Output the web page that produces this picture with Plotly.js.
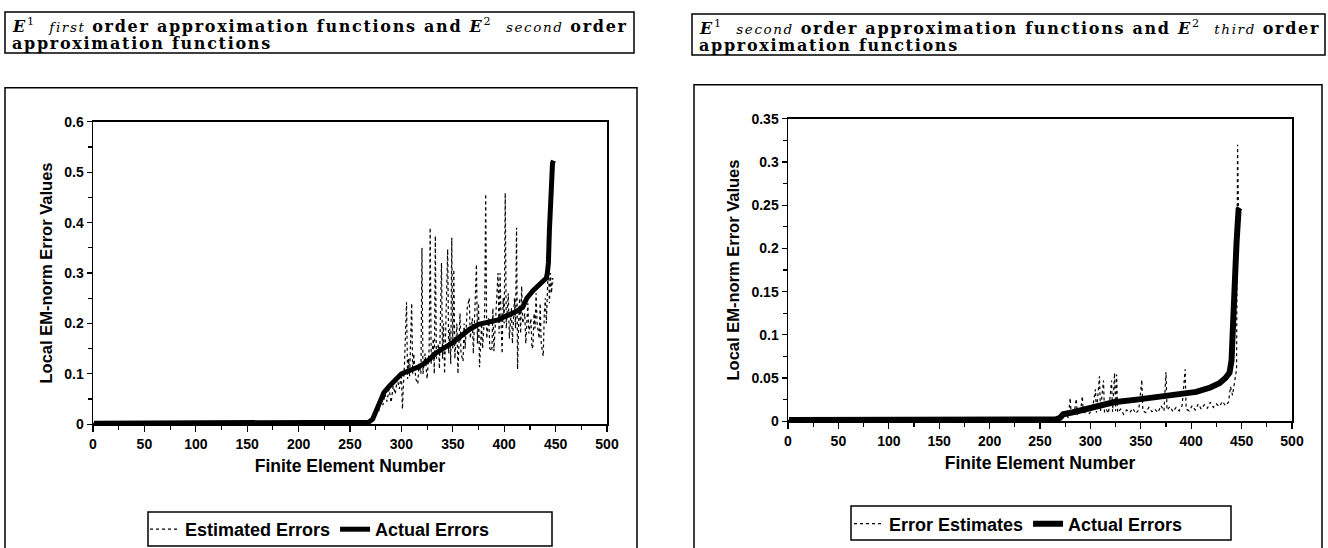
<!DOCTYPE html>
<html>
<head>
<meta charset="utf-8">
<script src="https://cdn.plot.ly/plotly-3.0.1.min.js"></script>
<style>html,body{margin:0;padding:0;background:#fff;}#chart{width:1328px;height:548px;}</style>
</head>
<body>
<div id="chart"></div>
<script>
// ---------------- data ----------------
// Left panel: E1 first order / E2 second order
const leftActualX = [1, 50, 100, 150, 180, 200, 250, 268, 272, 275,
  278, 283, 288, 293, 297, 300, 305, 310, 318, 325,
  334, 342, 350, 358, 366, 375, 385, 394, 400, 406,
  412, 418, 422, 428, 434, 438, 441, 442, 443, 444,
  445, 446, 447, 448];
const leftActualY = [0.002, 0.002, 0.002, 0.002, 0.003, 0.003, 0.003, 0.004, 0.01, 0.025,
  0.04, 0.063, 0.075, 0.085, 0.095, 0.1, 0.104, 0.108, 0.115, 0.125,
  0.142, 0.152, 0.162, 0.175, 0.188, 0.198, 0.203, 0.207, 0.213, 0.218,
  0.224, 0.232, 0.25, 0.265, 0.276, 0.284, 0.29, 0.30, 0.32, 0.386,
  0.45, 0.505, 0.518, 0.523];

const leftEstX = [0, 100, 200, 268, 271, 274, 276, 278, 280, 282,
  284, 286, 288, 290, 292, 294, 296, 298, 300, 301,
  302, 303, 305, 306, 307, 308, 310, 311, 312, 314,
  316, 317, 319, 320, 321, 323, 325, 327, 328, 329,
  331, 332, 333, 334, 336, 337, 339, 340, 341, 342,
  343, 345, 346, 347, 348, 349, 350, 351, 352, 354,
  355, 357, 358, 360, 361, 362, 364, 366, 367, 369,
  370, 372, 373, 374, 375, 376, 378, 379, 381, 382,
  383, 385, 386, 388, 389, 390, 392, 394, 395, 396,
  397, 398, 399, 400, 401, 402, 404, 405, 407, 408,
  410, 411, 412, 413, 414, 415, 416, 417, 418, 420,
  421, 423, 424, 426, 427, 428, 429, 430, 431, 432,
  434, 435, 436, 438, 439, 440, 441, 442, 443, 444,
  445, 446, 447, 448];
const leftEstY = [0.002, 0.002, 0.002, 0.003, 0.008, 0.02, 0.035, 0.025, 0.05, 0.038,
  0.06, 0.045, 0.07, 0.043, 0.076, 0.06, 0.09, 0.07, 0.1, 0.03,
  0.08, 0.12, 0.242, 0.09, 0.13, 0.095, 0.24, 0.1, 0.14, 0.09,
  0.08, 0.12, 0.1, 0.35, 0.1, 0.14, 0.09, 0.15, 0.39, 0.12,
  0.17, 0.1, 0.374, 0.13, 0.16, 0.11, 0.32, 0.13, 0.2, 0.1,
  0.18, 0.347, 0.14, 0.19, 0.12, 0.37, 0.15, 0.307, 0.13, 0.2,
  0.1, 0.22, 0.14, 0.125, 0.2, 0.15, 0.23, 0.25, 0.17, 0.21,
  0.14, 0.24, 0.317, 0.16, 0.24, 0.113, 0.2, 0.15, 0.22, 0.457,
  0.17, 0.21, 0.15, 0.145, 0.23, 0.145, 0.224, 0.3, 0.18, 0.3,
  0.2, 0.14, 0.25, 0.2, 0.459, 0.19, 0.26, 0.17, 0.23, 0.16,
  0.25, 0.19, 0.39, 0.109, 0.2, 0.25, 0.18, 0.274, 0.2, 0.22,
  0.16, 0.24, 0.18, 0.21, 0.15, 0.155, 0.22, 0.19, 0.26, 0.2,
  0.17, 0.24, 0.16, 0.135, 0.22, 0.25, 0.2, 0.27, 0.32, 0.24,
  0.3, 0.26, 0.29, 0.28];

// Right panel: E1 second order / E2 third order
const rightActualX = [1, 100, 200, 265, 270, 273, 285, 296, 310, 323,
  346, 372, 389, 405, 419, 428, 434, 438, 440, 441,
  442, 443, 444, 445, 446, 447, 448];
const rightActualY = [0.0015, 0.0015, 0.0015, 0.002, 0.004, 0.008, 0.011, 0.014, 0.018, 0.022,
  0.025, 0.029, 0.032, 0.034, 0.039, 0.044, 0.05, 0.056, 0.07, 0.091,
  0.12, 0.149, 0.18, 0.207, 0.235, 0.245, 0.247];

const rightEstX = [0, 100, 200, 268, 272, 276, 278, 280, 281, 284,
  286, 287, 290, 292, 293, 296, 299, 302, 305, 306,
  309, 310, 313, 314, 316, 318, 321, 322, 324, 325,
  326, 327, 330, 333, 336, 339, 342, 345, 348, 351,
  352, 355, 358, 361, 364, 367, 370, 373, 375, 376,
  379, 382, 385, 388, 391, 394, 395, 398, 401, 404,
  407, 410, 413, 416, 419, 422, 425, 428, 431, 434,
  437, 439, 441, 443, 445, 446, 447];
const rightEstY = [0.001, 0.001, 0.001, 0.002, 0.004, 0.008, 0.004, 0.027, 0.006, 0.01,
  0.026, 0.008, 0.01, 0.029, 0.008, 0.012, 0.009, 0.014, 0.037, 0.01,
  0.052, 0.012, 0.047, 0.01, 0.013, 0.009, 0.047, 0.011, 0.056, 0.012,
  0.054, 0.01, 0.014, 0.008, 0.013, 0.01, 0.015, 0.009, 0.013, 0.048,
  0.012, 0.01, 0.016, 0.011, 0.014, 0.01, 0.018, 0.012, 0.057, 0.013,
  0.017, 0.011, 0.016, 0.012, 0.018, 0.06, 0.014, 0.012, 0.018, 0.013,
  0.02, 0.014, 0.019, 0.015, 0.022, 0.016, 0.02, 0.017, 0.023, 0.018,
  0.022, 0.04, 0.03, 0.045, 0.06, 0.32, 0.23];

const xTitle = 'Finite Element Number';
const yTitle = 'Local EM-norm Error Values';
const ITAL = '<span style="font-size:13.5px;font-weight:normal;letter-spacing:1.6px"><i>';
const ITAL_END = '</i></span>';
const WIDE = '<span style="letter-spacing:1.7px">';
const WIDE_END = '</span>';
const leftTitle1 = WIDE + '<b><i>E</i></b><sup>1</sup>  ' + ITAL + 'first' + ITAL_END + ' <b>order approximation functions and </b><b><i>E</i></b><sup>2</sup>  ' + ITAL + 'second' + ITAL_END + ' <b>order</b>' + WIDE_END;
const leftTitle2 = WIDE + '<b>approximation functions</b>' + WIDE_END;
const rightTitle1 = WIDE + '<b><i>E</i></b><sup>1</sup>  ' + ITAL + 'second' + ITAL_END + ' <b>order approximation functions and </b><b><i>E</i></b><sup>2</sup>  ' + ITAL + 'third' + ITAL_END + ' <b>order</b>' + WIDE_END;
const rightTitle2 = WIDE + '<b>approximation functions</b>' + WIDE_END;

// ---------------- layout helpers ----------------
const W = 1328, H = 548;
const px = x => x / W;
const py = y => 1 - y / H;
const SANS = 'Liberation Sans, Arial, sans-serif';
const SERIF = 'DejaVu Serif, serif';

function xaxisCfg(d0, d1, anchor) {
  return {
    domain: [px(d0), px(d1)], anchor: anchor, range: [0, 500], tick0: 0, dtick: 50,
    ticks: 'outside', ticklen: 6, tickwidth: 1.3, tickcolor: '#000',
    minor: {dtick: 25, ticks: 'outside', ticklen: 4, tickwidth: 1.2, tickcolor: '#000'},
    showline: true, linecolor: '#000', linewidth: 1.5, mirror: true,
    showgrid: false, zeroline: false,
    tickfont: {family: SANS, size: 14, color: '#000', weight: 'bold'},
    title: {text: xTitle, font: {family: SANS, size: 17.5, color: '#000', weight: 'bold'}, standoff: 9}
  };
}
function yaxisCfg(d0, d1, anchor, top, dt, mdt) {
  return {
    domain: [py(d0), py(d1)], anchor: anchor, range: [0, top], tick0: 0, dtick: dt,
    ticks: 'outside', ticklen: 5, tickwidth: 1.3, tickcolor: '#000',
    minor: {dtick: mdt, ticks: 'outside', ticklen: 4, tickwidth: 1.2, tickcolor: '#000'},
    showline: true, linecolor: '#000', linewidth: 1.5, mirror: true,
    showgrid: false, zeroline: false,
    tickfont: {family: SANS, size: 14, color: '#000', weight: 'bold'},
    title: {text: yTitle, font: {family: SANS, size: 16.5, color: '#000', weight: 'bold'}, standoff: 7}
  };
}

const estLine = {color: '#000', width: 1.2, dash: 'dot'};
const actLine = {color: '#000', width: 5};

const data = [
  {x: leftEstX, y: leftEstY, xaxis: 'x', yaxis: 'y', type: 'scatter', mode: 'lines',
   name: 'Estimated Errors', line: estLine, legend: 'legend'},
  {x: leftActualX, y: leftActualY, xaxis: 'x', yaxis: 'y', type: 'scatter', mode: 'lines',
   name: 'Actual Errors', line: actLine, legend: 'legend'},
  {x: rightEstX, y: rightEstY, xaxis: 'x2', yaxis: 'y2', type: 'scatter', mode: 'lines',
   name: 'Error Estimates', line: estLine, legend: 'legend2'},
  {x: rightActualX, y: rightActualY, xaxis: 'x2', yaxis: 'y2', type: 'scatter', mode: 'lines',
   name: 'Actual Errors', line: {color: '#000', width: 6}, legend: 'legend2'}
];

function box(x0, y0, x1, y1) {
  return {type: 'rect', xref: 'paper', yref: 'paper', x0: px(x0), x1: px(x1), y0: py(y1), y1: py(y0),
          line: {color: '#000', width: 1.5}, fillcolor: 'rgba(0,0,0,0)', layer: 'below'};
}
function titleLine(x, y, text) {
  return {xref: 'paper', yref: 'paper', x: px(x), y: py(y), xanchor: 'left', yanchor: 'middle',
          align: 'left', showarrow: false, text: text,
          font: {family: SERIF, size: 16, color: '#000'}};
}

const legendFont = {family: SANS, size: 18, color: '#000', weight: 'bold'};

const layout = {
  width: W, height: H,
  margin: {l: 0, r: 0, t: 0, b: 0},
  paper_bgcolor: '#fff', plot_bgcolor: '#fff',
  showlegend: true,
  xaxis: xaxisCfg(93, 607, 'y'),
  yaxis: yaxisCfg(425, 122, 'x', 0.6, 0.1, 0.05),
  xaxis2: xaxisCfg(788, 1292, 'y2'),
  yaxis2: yaxisCfg(422, 119, 'x2', 0.35, 0.05, 0.025),
  legend: {orientation: 'h', x: px(145), y: py(530), xanchor: 'left', yanchor: 'middle',
           bgcolor: 'rgba(0,0,0,0)', borderwidth: 0, font: legendFont, itemwidth: 30},
  legend2: {orientation: 'h', x: px(849), y: py(524), xanchor: 'left', yanchor: 'middle',
            bgcolor: 'rgba(0,0,0,0)', borderwidth: 0, font: legendFont, itemwidth: 30},
  shapes: [
    box(5, 12, 634, 53),
    box(692, 14, 1325, 55),
    box(5, 88, 637, 560),
    box(694, 85, 1322, 560),
    box(148, 513, 552, 547),
    box(851, 507, 1231, 541)
  ],
  annotations: [
    titleLine(10, 26, leftTitle1),
    titleLine(10, 44, leftTitle2),
    titleLine(697, 28, rightTitle1),
    titleLine(697, 46, rightTitle2)
  ]
};

Plotly.newPlot('chart', data, layout, {staticPlot: true, displayModeBar: false});
</script>
</body>
</html>
